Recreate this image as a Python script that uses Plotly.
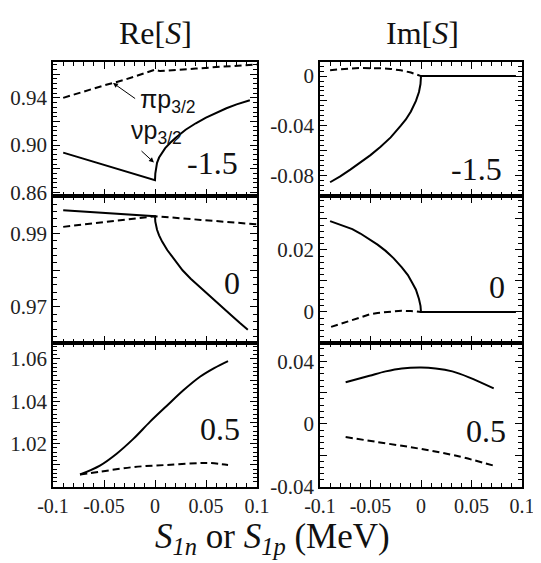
import plotly.graph_objects as go

# ---------------- data ----------------
# Row 1 (label -1.5)
re1_pi_x = [-0.09, -0.07, -0.05, -0.03, -0.01, 0.0, 0.005, 0.02, 0.04, 0.06, 0.08, 0.1]
re1_pi_y = [0.940, 0.9455, 0.9505, 0.9552, 0.9605, 0.9638, 0.9626, 0.9633, 0.9647, 0.9660, 0.9672, 0.9682]
re1_nu_x = [-0.09, -0.06, -0.03, 0.0, 0.0003, 0.001, 0.002, 0.004, 0.007, 0.01, 0.015, 0.02, 0.03, 0.04, 0.05, 0.06, 0.07, 0.08, 0.093]
re1_nu_y = [0.8937, 0.8860, 0.8782, 0.8704, 0.8760, 0.8810, 0.8850, 0.8895, 0.8940, 0.8975, 0.9020, 0.9060, 0.9130, 0.9185, 0.9232, 0.9275, 0.9312, 0.9345, 0.9380]
im1_pi_x = [-0.09, -0.08, -0.07, -0.06, -0.05, -0.04, -0.03, -0.02, -0.01, -0.005, 0.0, 0.094]
im1_pi_y = [0.0048, 0.0056, 0.0062, 0.0065, 0.0066, 0.0063, 0.0058, 0.0047, 0.0029, 0.0016, 0.0, 0.0]
im1_nu_x = [-0.09, -0.08, -0.07, -0.06, -0.05, -0.04, -0.03, -0.02, -0.015, -0.01, -0.005, -0.002, -0.0005, 0.0, 0.094]
im1_nu_y = [-0.0857, -0.0810, -0.0755, -0.0700, -0.0638, -0.0570, -0.0495, -0.0400, -0.0350, -0.0285, -0.0200, -0.0128, -0.0064, 0.0, 0.0]

# Row 2 (label 0)
re2_pi_x = [-0.09, -0.045, 0.0, 0.045, 0.1]
re2_pi_y = [0.9918, 0.9932, 0.9947, 0.9937, 0.9925]
re2_nu_x = [-0.09, -0.045, 0.0, 0.0003, 0.001, 0.002, 0.004, 0.007, 0.012, 0.02, 0.027, 0.035, 0.044, 0.052, 0.06, 0.068, 0.075, 0.083, 0.091]
re2_nu_y = [0.9963, 0.9955, 0.9947, 0.9932, 0.9920, 0.9910, 0.9895, 0.9878, 0.9855, 0.9825, 0.9800, 0.9777, 0.9755, 0.9734, 0.9714, 0.9694, 0.9677, 0.9657, 0.9638]
im2_pi_x = [-0.089, -0.08, -0.068, -0.06, -0.051, -0.043, -0.035, -0.027, -0.019, -0.01, -0.005, 0.0, 0.094]
im2_pi_y = [-0.0048, -0.0039, -0.0027, -0.0017, -0.0008, -0.0003, 0.0, 0.0003, 0.0004, 0.0003, 0.0002, 0.0, 0.0]
im2_nu_x = [-0.09, -0.08, -0.068, -0.06, -0.051, -0.043, -0.035, -0.027, -0.019, -0.013, -0.009, -0.005, -0.002, -0.0005, 0.0, 0.094]
im2_nu_y = [0.0293, 0.0281, 0.0267, 0.0253, 0.0235, 0.0217, 0.0197, 0.0173, 0.0144, 0.0119, 0.0096, 0.0072, 0.0042, 0.0020, 0.0, 0.0]

# Row 3 (label 0.5)
re3_pi_x = [-0.0735, -0.054, -0.021, 0.0114, 0.0441, 0.054, 0.0716]
re3_pi_y = [1.0055, 1.0068, 1.0090, 1.0100, 1.0109, 1.0109, 1.0100]
re3_nu_x = [-0.0735, -0.054, -0.0376, -0.021, -0.005, 0.0114, 0.0278, 0.0441, 0.058, 0.0716]
re3_nu_y = [1.0055, 1.0097, 1.0153, 1.0224, 1.0303, 1.0378, 1.0452, 1.0516, 1.0557, 1.0590]
im3_pi_x = [-0.0746, -0.035, 0.0, 0.035, 0.072]
im3_pi_y = [-0.0085, -0.0125, -0.0161, -0.0205, -0.0268]
im3_nu_x = [-0.0746, -0.051, -0.035, -0.019, 0.0, 0.0145, 0.031, 0.0475, 0.072]
im3_nu_y = [0.0266, 0.0308, 0.0336, 0.0355, 0.0361, 0.0355, 0.0336, 0.0298, 0.0227]

panel_labels = ["-1.5", "0", "0.5"]
x_ticks = [-0.1, -0.05, 0, 0.05, 0.1]
x_ticktext = ["-0.1", "-0.05", "0", "0.05", "0.1"]

# the page body has an 8px default margin: lay out in window pixels minus that offset
OFF = 8
W, H = 541 - OFF, 563 - OFF
SERIF = "Liberation Serif, Times New Roman, serif"
SANS = "Liberation Sans, Arial, sans-serif"


def fx(px):
    return (px - OFF) / W


def fy(py):
    return 1 - (py - OFF) / H


# panel pixel geometry (window pixels)
col_px = [(53, 257), (320, 522)]
row_px = [(62, 196), (196, 343), (343, 487)]

fig = go.Figure()

series = [
    [(re1_pi_x, re1_pi_y, re1_nu_x, re1_nu_y), (im1_pi_x, im1_pi_y, im1_nu_x, im1_nu_y)],
    [(re2_pi_x, re2_pi_y, re2_nu_x, re2_nu_y), (im2_pi_x, im2_pi_y, im2_nu_x, im2_nu_y)],
    [(re3_pi_x, re3_pi_y, re3_nu_x, re3_nu_y), (im3_pi_x, im3_pi_y, im3_nu_x, im3_nu_y)],
]

yspecs = [
    [dict(rng=[0.857, 0.9703], vals=[0.86, 0.88, 0.90, 0.92, 0.94, 0.96], txt=["0.86", "", "0.90", "", "0.94", ""], minor=0.004, t0=0.86),
     dict(rng=[-0.0968, 0.0114], vals=[-0.08, -0.06, -0.04, -0.02, 0], txt=["-0.08", "", "-0.04", "", "0"], minor=0.004, t0=0)],
    [dict(rng=[0.9602, 1.0002], vals=[0.96, 0.97, 0.98, 0.99, 1.0], txt=["", "0.97", "", "0.99", ""], minor=0.002, t0=0.96),
     dict(rng=[-0.0100, 0.0374], vals=[-0.01, 0, 0.01, 0.02, 0.03], txt=["", "0", "", "0.02", ""], minor=0.002, t0=0)],
    [dict(rng=[0.9996, 1.0675], vals=[1.01, 1.02, 1.03, 1.04, 1.05, 1.06], txt=["", "1.02", "", "1.04", "", "1.06"], minor=0.002, t0=1.0),
     dict(rng=[-0.0405, 0.0518], vals=[-0.04, -0.02, 0, 0.02, 0.04], txt=["-0.04", "", "0", "", "0.04"], minor=0.004, t0=0)],
]

label_pos = [
    [(0.083, 0.8847, "right"), (0.082, -0.0751, "right")],
    [(0.075, 0.9764, "center"), (0.0756, 0.0081, "center")],
    [(0.0637, 1.0271, "center"), (0.064, -0.0043, "center")],
]

annotations = []
layout_axes = {}
k = 0
for r in range(3):
    for c in range(2):
        k += 1
        xa = "x" if k == 1 else f"x{k}"
        ya = "y" if k == 1 else f"y{k}"
        pix, piy, nux, nuy = series[r][c]
        shape = "spline" if r == 2 else "linear"
        fig.add_trace(go.Scatter(x=pix, y=piy, mode="lines", xaxis=xa, yaxis=ya,
                                 line=dict(color="black", width=2, dash="7px,4px", shape=shape), showlegend=False))
        fig.add_trace(go.Scatter(x=nux, y=nuy, mode="lines", xaxis=xa, yaxis=ya,
                                 line=dict(color="black", width=2, shape=shape), showlegend=False))
        x0, x1 = col_px[c]
        y0, y1 = row_px[r]
        ys = yspecs[r][c]
        xkey = "xaxis" if k == 1 else f"xaxis{k}"
        ykey = "yaxis" if k == 1 else f"yaxis{k}"
        layout_axes[xkey] = dict(
            domain=[fx(x0), fx(x1)], anchor=ya, range=[-0.1, 0.1], automargin=False,
            tickmode="array", tickvals=x_ticks, ticktext=x_ticktext,
            showticklabels=(r == 2),
            ticks="inside", ticklen=7, tickwidth=1.3, tickcolor="black",
            minor=dict(ticks="inside", ticklen=4, tickwidth=1, tickcolor="black", dtick=0.01, tick0=0, tickmode="linear"),
            showline=True, linecolor="black", linewidth=1.6, mirror="allticks",
            showgrid=False, zeroline=False,
            tickfont=dict(family=SERIF, size=20, color="#222"),
        )
        layout_axes[ykey] = dict(
            domain=[fy(y1), fy(y0)], anchor=xa, range=ys["rng"], automargin=False,
            tickmode="array", tickvals=ys["vals"], ticktext=ys["txt"],
            ticks="inside", ticklen=7, tickwidth=1.3, tickcolor="black",
            minor=dict(ticks="inside", ticklen=4, tickwidth=1, tickcolor="black", dtick=ys["minor"], tick0=ys["t0"], tickmode="linear"),
            showline=True, linecolor="black", linewidth=1.6, mirror="allticks",
            showgrid=False, zeroline=False,
            tickfont=dict(family=SERIF, size=21, color="#222"),
        )
        lx, ly, anc = label_pos[r][c]
        annotations.append(dict(x=lx, y=ly, xref=xa, yref=ya, text=panel_labels[r], showarrow=False,
                                xanchor=anc, yanchor="middle",
                                font=dict(family=SERIF, size=32, color="#111")))

# species labels with arrows (top-left panel)
annotations.append(dict(x=0.012, y=0.937, xref="x", yref="y", text="πp<sub>3/2</sub>", showarrow=False,
                        font=dict(family=SANS, size=25, color="#111")))
annotations.append(dict(x=-0.0412, y=0.9526, ax=-0.018, ay=0.9385, xref="x", yref="y", axref="x", ayref="y",
                        text="", showarrow=True, arrowhead=2, arrowsize=1, arrowwidth=1, arrowcolor="black"))
annotations.append(dict(x=0.001, y=0.911, xref="x", yref="y", text="νp<sub>3/2</sub>", showarrow=False,
                        font=dict(family=SANS, size=25, color="#111")))
annotations.append(dict(x=-0.001, y=0.8853, ax=-0.0147, ay=0.8962, xref="x", yref="y", axref="x", ayref="y",
                        text="", showarrow=True, arrowhead=2, arrowsize=1, arrowwidth=1, arrowcolor="black"))

# column titles and x title
annotations.append(dict(x=fx(155), y=fy(33), xref="paper", yref="paper", text="Re[<i>S</i>]", showarrow=False,
                        font=dict(family=SERIF, size=32, color="#111"), xanchor="center", yanchor="middle"))
annotations.append(dict(x=fx(422), y=fy(33), xref="paper", yref="paper", text="Im[<i>S</i>]", showarrow=False,
                        font=dict(family=SERIF, size=32, color="#111"), xanchor="center", yanchor="middle"))
annotations.append(dict(x=fx(272), y=fy(538), xref="paper", yref="paper",
                        text="<i>S</i><sub><i>1n</i></sub> or <i>S</i><sub><i>1p</i></sub> (MeV)", showarrow=False,
                        font=dict(family=SERIF, size=35, color="#111"), xanchor="center", yanchor="middle"))

fig.update_layout(
    width=W, height=H, margin=dict(l=0, r=0, t=0, b=0),
    paper_bgcolor="white", plot_bgcolor="white",
    annotations=annotations, **layout_axes,
)

fig.write_html("out.html")
